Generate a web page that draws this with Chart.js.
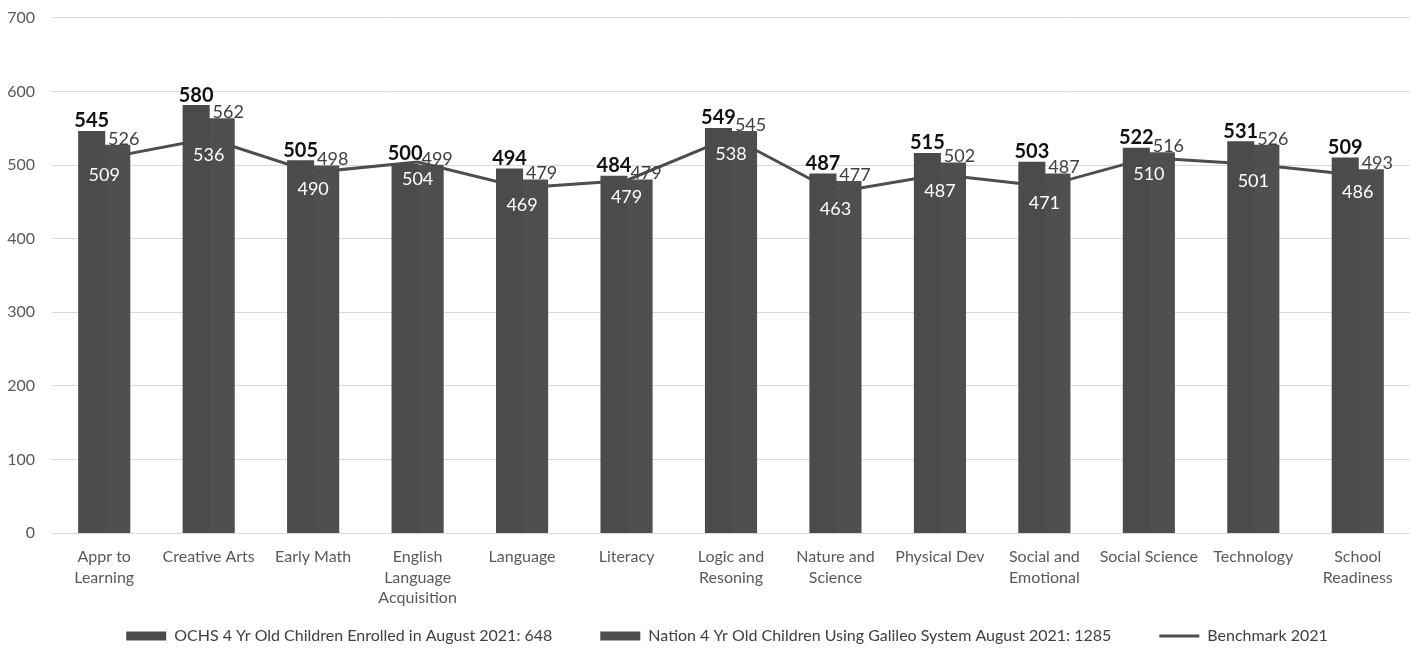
<!DOCTYPE html>
<html>
<head>
<meta charset="utf-8">
<script src="https://cdn.jsdelivr.net/npm/chart.js@4/dist/chart.umd.min.js"></script>
<style>
  html, body { margin: 0; padding: 0; background: #fff; }
  #wrap { width: 1421px; height: 650px; }
</style>
</head>
<body>
<div id="wrap"><canvas id="c"></canvas></div>
<script>
var categories = [
  ['Appr to', 'Learning'], 'Creative Arts', 'Early Math',
  ['English', 'Language', 'Acquisition'], 'Language', 'Literacy',
  ['Logic and', 'Resoning'], ['Nature and', 'Science'], 'Physical Dev',
  ['Social and', 'Emotional'], 'Social Science', 'Technology',
  ['School', 'Readiness']
];
var ochs = [545, 580, 505, 500, 494, 484, 549, 487, 515, 503, 522, 531, 509];
var nation = [526, 562, 498, 499, 479, 479, 545, 477, 502, 487, 516, 526, 493];
var benchmark = [509, 536, 490, 504, 469, 479, 538, 463, 487, 471, 510, 501, 486];
var yTicks = [0, 100, 200, 300, 400, 500, 600, 700];

var FONT = 'Lato, "Open Sans", sans-serif';
var GAP = '\u2003\u2003\u2003\u2009'; // extra room between legend entries

// draws the value labels (no datalabels plugin available)
var valueLabels = {
  id: 'valueLabels',
  afterDatasetsDraw: function (chart) {
    var ctx = chart.ctx;
    ctx.save();
    ctx.textAlign = 'center';
    chart.data.datasets.forEach(function (ds, di) {
      var meta = chart.getDatasetMeta(di);
      meta.data.forEach(function (el, i) {
        var v = ds.data[i];
        if (di === 0) {
          ctx.font = 'bold 20px ' + FONT;
          ctx.fillStyle = '#111';
          ctx.textBaseline = 'bottom';
          ctx.fillText(v, el.x, el.y - 1);
        } else if (di === 1) {
          ctx.font = '18px ' + FONT;
          ctx.fillStyle = '#404040';
          ctx.textBaseline = 'bottom';
          ctx.fillText(v, el.x + 7, el.y + 2);
        } else {
          ctx.font = '18px ' + FONT;
          ctx.fillStyle = '#ffffff';
          ctx.textBaseline = 'top';
          ctx.fillText(v, el.x, el.y + 8);
        }
      });
    });
    ctx.restore();
  }
};

new Chart(document.getElementById('c'), {
  type: 'bar',
  data: {
    labels: categories,
    datasets: [
      {
        label: 'OCHS 4 Yr Old Children Enrolled in August 2021: 648',
        data: ochs,
        backgroundColor: '#4b4b4b',
        borderWidth: 0,
        inflateAmount: 1,
        pointStyle: 'rect',
        order: 2
      },
      {
        label: 'Nation 4 Yr Old Children Using Galileo System August 2021: 1285',
        data: nation,
        backgroundColor: '#4f4f4f',
        borderWidth: 0,
        inflateAmount: 1,
        pointStyle: 'rect',
        order: 2
      },
      {
        type: 'line',
        label: 'Benchmark 2021',
        data: benchmark,
        borderColor: '#4d4d4d',
        backgroundColor: '#4d4d4d',
        borderWidth: 3,
        pointRadius: 0,
        pointStyle: 'line',
        tension: 0,
        order: 1
      }
    ]
  },
  options: {
    responsive: true,
    maintainAspectRatio: false,
    animation: false,
    datasets: {
      bar: { barPercentage: 1, categoryPercentage: 0.48 }
    },
    layout: { padding: { top: 0, right: 11, left: 0, bottom: -4 } },
    plugins: {
      title: { display: false },
      tooltip: { enabled: false },
      legend: {
        position: 'bottom',
        fullSize: false,
        labels: {
          usePointStyle: true,
          pointStyleWidth: 40,
          boxHeight: 9,
          padding: 10,
          color: '#404040',
          font: { family: FONT, size: 16 },
          sort: function (a, b) { return a.datasetIndex - b.datasetIndex; },
          generateLabels: function (chart) {
            var items = Chart.defaults.plugins.legend.labels.generateLabels(chart);
            items.forEach(function (it) {
              it.text = it.text + (it.datasetIndex < 2 ? GAP : '\u2002');
            });
            return items;
          }
        }
      }
    },
    scales: {
      x: {
        grid: { display: false, drawTicks: false },
        border: { display: false },
        ticks: {
          color: '#595959',
          padding: 14,
          maxRotation: 0,
          autoSkip: false,
          font: { family: FONT, size: 16, lineHeight: 1.27 }
        },
        afterFit: function (s) { s.height = 85; }
      },
      y: {
        min: 0,
        max: 700,
        afterBuildTicks: function (s) {
          s.ticks = yTicks.map(function (v) { return { value: v }; });
        },
        grid: { color: '#d9d9d9', drawTicks: false },
        border: { display: false },
        ticks: {
          color: '#595959',
          padding: 17,
          font: { family: FONT, size: 16, lineHeight: 0.1 }
        },
        afterFit: function (s) { s.width = 52; }
      }
    }
  },
  plugins: [valueLabels]
});
</script>
</body>
</html>
